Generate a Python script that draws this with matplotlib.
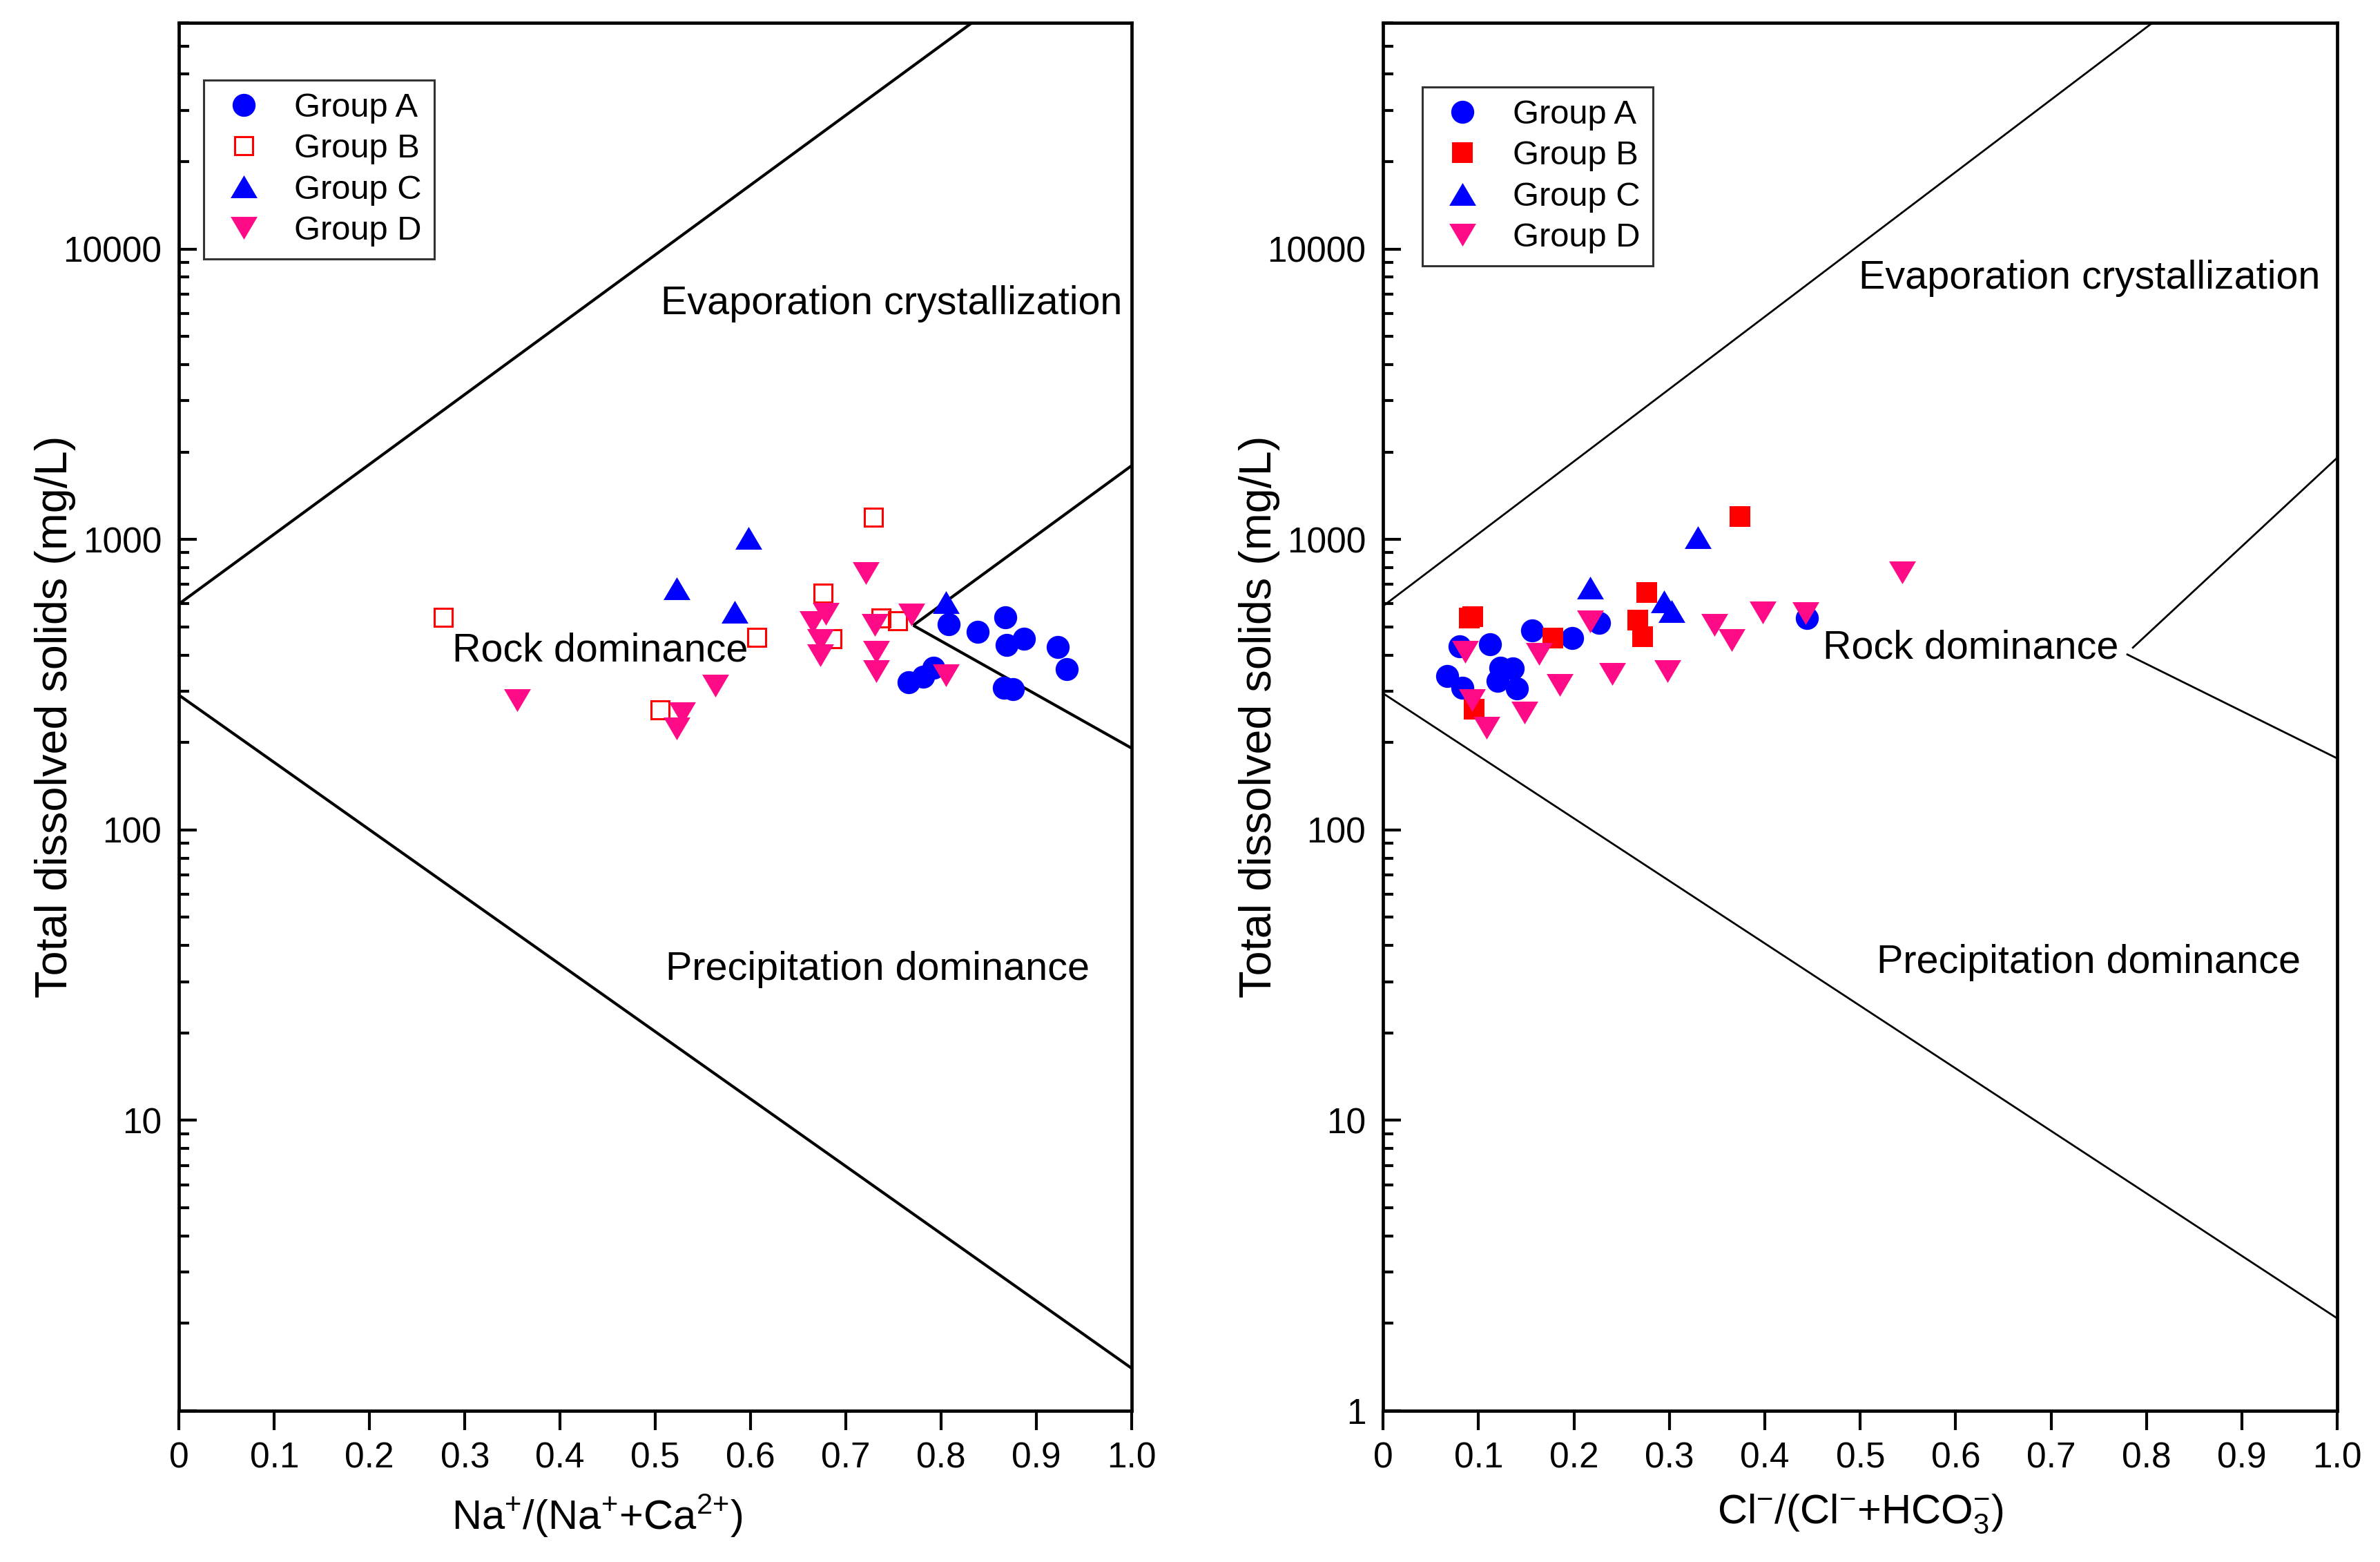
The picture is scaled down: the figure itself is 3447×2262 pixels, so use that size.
import matplotlib
matplotlib.use('Agg')
import matplotlib.pyplot as plt
from matplotlib.ticker import LogLocator, NullFormatter, FixedLocator

plt.rcParams['font.family'] = ['Liberation Sans', 'DejaVu Sans']
plt.rcParams['mathtext.default'] = 'regular'

# ---------------- data: left panel, Na/(Na+Ca) vs TDS ----------------
na_a = [0.808, 0.838, 0.867, 0.869, 0.887, 0.922, 0.932, 0.766, 0.781, 0.792, 0.866, 0.875]
tds_na_a = [511, 481, 538, 434, 456, 426, 357, 322, 337, 361, 308, 305]
na_b = [0.277, 0.505, 0.606, 0.676, 0.685, 0.729, 0.737, 0.754]
tds_na_b = [538, 259, 461, 653, 456, 1192, 535, 525]
na_c = [0.522, 0.583, 0.598, 0.805]
tds_na_c = [677, 562, 1012, 607]
na_d = [0.355, 0.522, 0.528, 0.563, 0.665, 0.673, 0.673, 0.679, 0.721, 0.730, 0.732, 0.732, 0.769, 0.805]
tds_na_d = [279, 223, 252, 314, 520, 400, 450, 555, 766, 509, 409, 351, 552, 341]

# ---------------- data: right panel, Cl/(Cl+HCO3) vs TDS ----------------
cl_a = [0.080, 0.112, 0.067, 0.083, 0.123, 0.136, 0.120, 0.140, 0.156, 0.198, 0.226, 0.444]
tds_cl_a = [428, 436, 339, 309, 361, 359, 325, 307, 486, 458, 515, 537]
cl_b = [0.090, 0.094, 0.095, 0.178, 0.267, 0.272, 0.276, 0.374]
tds_cl_b = [537, 543, 260, 457, 528, 463, 656, 1202]
cl_c = [0.217, 0.294, 0.302, 0.330]
tds_cl_c = [681, 613, 565, 1020]
cl_d = [0.086, 0.093, 0.108, 0.163, 0.185, 0.148, 0.217, 0.240, 0.298, 0.347, 0.365, 0.398, 0.443, 0.544]
tds_cl_d = [411, 280, 225, 404, 315, 254, 522, 344, 352, 509, 449, 559, 557, 771]

# Gibbs boundary lines (x list, y list)
left_bounds = [
    ([0, 0.832], [600, 60000]),
    ([0, 1.0], [291, 1.40]),
    ([0.7706, 1.0], [506, 1796]),
    ([0.7706, 1.0], [506, 191]),
]
right_bounds = [
    ([0, 0.806], [590, 60000]),
    ([0, 1.0], [295, 2.08]),
    ([0.785, 1.0], [422, 1913]),
    ([0.779, 1.008], [403, 171]),
]

group_names = ['Group A', 'Group B', 'Group C', 'Group D']
blue = '#0000FF'
red = '#FF0000'
pink = '#FF0A87'

tri_up = [(0, 0.5), (-0.59, -0.5), (0.59, -0.5), (0, 0.5)]
tri_down = [(0, -0.5), (-0.59, 0.5), (0.59, 0.5), (0, -0.5)]


def draw_panel(ax, xs, ys, bounds, line_w, open_b, ylabels, xlabel, xlabel_x, texts, leg_anchor):
    """Draw one Gibbs panel."""
    for bx, by in bounds:
        ax.plot(bx, by, color='black', lw=line_w, solid_capstyle='butt')

    ax.plot(xs[0], ys[0], ls='none', marker='o', ms=12, mfc=blue, mec=blue, mew=0,
            label=group_names[0])
    if open_b:
        ax.plot(xs[1], ys[1], ls='none', marker='s', ms=9.5, mfc='none', mec=red, mew=1.1,
                label=group_names[1])
    else:
        ax.plot(xs[1], ys[1], ls='none', marker='s', ms=10.5, mfc=red, mec=red, mew=0,
                label=group_names[1])
    ax.plot(xs[2], ys[2], ls='none', marker=tri_up, ms=14, mfc=blue, mec=blue, mew=0,
            label=group_names[2])
    ax.plot(xs[3], ys[3], ls='none', marker=tri_down, ms=14, mfc=pink, mec=pink, mew=0,
            label=group_names[3])

    ax.set_yscale('log')
    ax.set_xlim(0, 1.0)
    ax.set_ylim(1, 60000)
    ax.set_xticks([0, 0.1, 0.2, 0.3, 0.4, 0.5, 0.6, 0.7, 0.8, 0.9, 1.0])
    ax.set_xticklabels(['0', '0.1', '0.2', '0.3', '0.4', '0.5', '0.6', '0.7', '0.8', '0.9', '1.0'])
    ax.yaxis.set_major_locator(FixedLocator([1, 10, 100, 1000, 10000]))
    ax.set_yticklabels(ylabels)
    ax.yaxis.set_minor_locator(LogLocator(base=10, subs=range(2, 10), numticks=20))
    ax.yaxis.set_minor_formatter(NullFormatter())

    ax.tick_params(axis='y', which='major', direction='in', length=9.5, width=1.5,
                   labelsize=18.5, pad=9, right=False)
    ax.tick_params(axis='y', which='minor', direction='in', length=5.5, width=1.5, right=False)
    ax.tick_params(axis='x', which='major', direction='out', length=10, width=1.5,
                   labelsize=18.5, pad=6, top=False)
    for sp in ax.spines.values():
        sp.set_linewidth(1.7)

    ax.set_ylabel('Total dissolved solids (mg/L)', fontsize=23.3)
    ax.yaxis.set_label_coords(-0.108, 0.5)
    ax.set_xlabel(xlabel, fontsize=21.5, labelpad=9)
    ax.xaxis.label.set_x(xlabel_x)

    for tx, ty, s in texts:
        ax.text(tx, ty, s, fontsize=20.7, ha='center', va='center')

    leg = ax.legend(loc='upper left', bbox_to_anchor=leg_anchor, borderaxespad=0,
                    fontsize=17.6, frameon=True, fancybox=False, edgecolor='black',
                    handlelength=1.6, handletextpad=0.7, borderpad=0.38,
                    labelspacing=0.29, numpoints=1)
    leg.get_frame().set_linewidth(1.1)


fig = plt.figure(figsize=(17.24, 11.31), dpi=200)
ax1 = fig.add_axes([0.0752, 0.0968, 0.4002, 0.8885])
ax2 = fig.add_axes([0.5810, 0.0968, 0.4008, 0.8885])

draw_panel(ax1,
           [na_a, na_b, na_c, na_d], [tds_na_a, tds_na_b, tds_na_c, tds_na_d],
           left_bounds, 1.5, True,
           ['', '10', '100', '1000', '10000'],
           'Na$^{+}$/(Na$^{+}$+Ca$^{2{+}}$)', 0.4386,
           [(0.748, 6460, 'Evaporation crystallization'),
            (0.442, 414, 'Rock dominance'),
            (0.733, 33, 'Precipitation dominance')],
           (0.026, 0.959))

draw_panel(ax2,
           [cl_a, cl_b, cl_c, cl_d], [tds_cl_a, tds_cl_b, tds_cl_c, tds_cl_d],
           right_bounds, 1.0, False,
           ['1', '10', '100', '1000', '10000'],
           'Cl$^{-}$/(Cl$^{-}$+HCO$_{3}^{-}$)', 0.5,
           [(0.740, 7940, 'Evaporation crystallization'),
            (0.616, 423, 'Rock dominance'),
            (0.739, 35, 'Precipitation dominance')],
           (0.041, 0.954))

fig.savefig('out.png', dpi=200, facecolor='white')
